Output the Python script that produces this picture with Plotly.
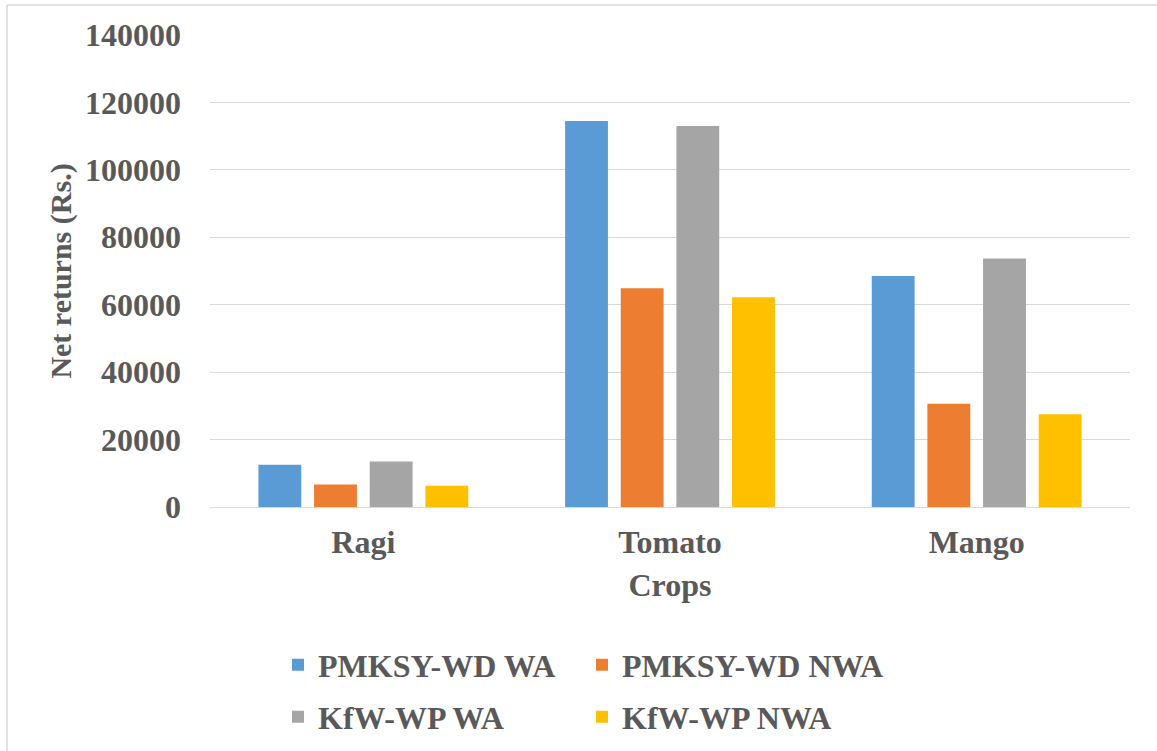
import plotly.graph_objects as go

crops = ["Ragi", "Tomato", "Mango"]
pmksy_wa = [12500, 114500, 68500]
pmksy_nwa = [6700, 64900, 30600]
kfw_wa = [13500, 113000, 73700]
kfw_nwa = [6300, 62200, 27500]
series_names = ["PMKSY-WD WA", "PMKSY-WD NWA", "KfW-WP WA", "KfW-WP NWA"]
colors = ["#5B9BD5", "#ED7D31", "#A5A5A5", "#FFC000"]
y_ticks = [0, 20000, 40000, 60000, 80000, 100000, 120000, 140000]

W, H = 1157, 751
L, R, T, B = 210, 27, 35, 244
pw, ph = W - L - R, H - T - B

def px_x(x):
    return (x - L) / pw

def px_y(y):
    return (H - B - y) / ph

FONT = "Liberation Serif"
TXT = "#595959"

fig = go.Figure()
data = [pmksy_wa, pmksy_nwa, kfw_wa, kfw_nwa]
legend_ids = ["legend", "legend2", "legend3", "legend4"]
legend_pos = [(278, 665), (582, 665), (278, 717), (582, 717)]
for name, vals, col, lg in zip(series_names, data, colors, legend_ids):
    fig.add_trace(go.Bar(
        x=crops, y=vals, name=name,
        marker=dict(color=col, line=dict(width=0)),
        legend=lg,
    ))

legend_font = dict(family=FONT, size=32, color=TXT, weight="bold")
layout_legends = {}
for lg, (lx, ly) in zip(legend_ids, legend_pos):
    layout_legends[lg] = dict(orientation="h", x=px_x(lx), xanchor="left",
                              y=px_y(ly), yanchor="middle",
                              font=legend_font, bgcolor="rgba(0,0,0,0)")

fig.update_layout(
    width=W, height=H,
    margin=dict(l=L, r=R, t=T, b=B, autoexpand=False),
    paper_bgcolor="white", plot_bgcolor="white",
    barmode="group", bargap=0.274, bargroupgap=0.23,
    font=dict(family=FONT, color=TXT, size=30),
    showlegend=True,
    **layout_legends,
)

fig.update_xaxes(
    showgrid=False, showline=False, zeroline=False,
    tickfont=dict(family=FONT, size=32, color=TXT, weight="bold"),
    ticks="", ticklabelstandoff=13,
    title=dict(text="Crops", font=dict(family=FONT, size=32, color=TXT, weight="bold"),
               standoff=14),
)
fig.update_yaxes(
    range=[0, 140000], tickvals=y_ticks, ticktext=[str(v) for v in y_ticks],
    showgrid=True, gridcolor="#D9D9D9", gridwidth=1.3,
    zeroline=True, zerolinecolor="#D9D9D9", zerolinewidth=1.3,
    showline=False, ticks="", ticklabelstandoff=28,
    tickfont=dict(family=FONT, size=32, color=TXT, weight="bold"),
    title=dict(text="Net returns (Rs.)", font=dict(family=FONT, size=30, color=TXT, weight="bold"),
               standoff=4),
)

# chart frame (top and left edges visible)
fig.add_shape(type="line", xref="paper", yref="paper",
              x0=px_x(7), x1=px_x(1157), y0=px_y(5), y1=px_y(5),
              line=dict(color="#D9D9D9", width=1.5))
fig.add_shape(type="line", xref="paper", yref="paper",
              x0=px_x(7), x1=px_x(7), y0=px_y(5), y1=px_y(751),
              line=dict(color="#D9D9D9", width=1.5))

fig.write_html("out.html", config={"displayModeBar": False},
               post_script="document.body.style.margin='0';")
